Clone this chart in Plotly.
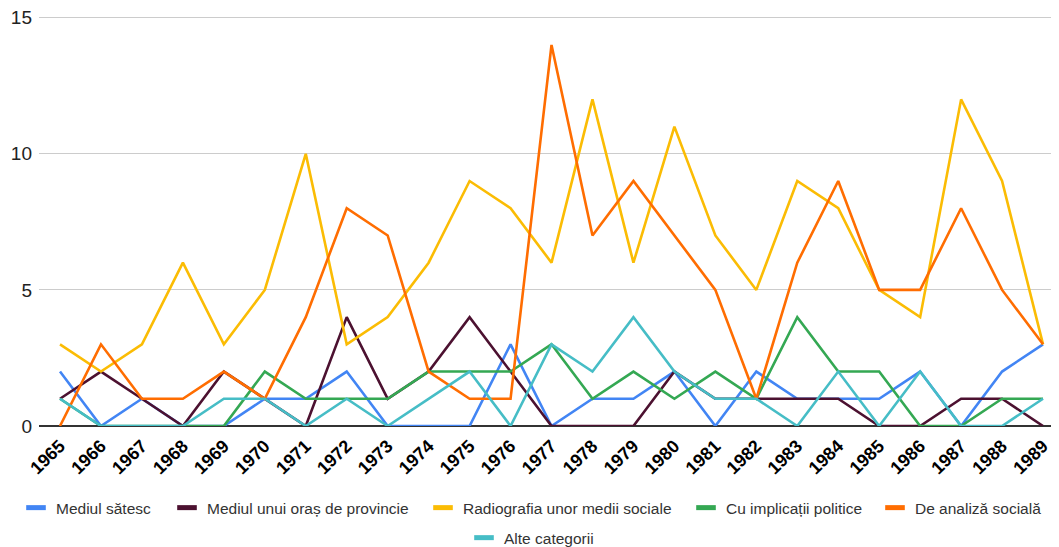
import plotly.graph_objects as go

years = [str(y) for y in range(1965, 1990)]

mediul_satesc = [2, 0, 1, 0, 0, 1, 1, 2, 0, 0, 0, 3, 0, 1, 1, 2, 0, 2, 1, 1, 1, 2, 0, 2, 3]
mediul_oras = [1, 2, 1, 0, 2, 1, 0, 4, 1, 2, 4, 2, 0, 0, 0, 2, 1, 1, 1, 1, 0, 0, 1, 1, 0]
radiografia = [3, 2, 3, 6, 3, 5, 10, 3, 4, 6, 9, 8, 6, 12, 6, 11, 7, 5, 9, 8, 5, 4, 12, 9, 3]
implicatii = [1, 0, 0, 0, 0, 2, 1, 1, 1, 2, 2, 2, 3, 1, 2, 1, 2, 1, 4, 2, 2, 0, 0, 1, 1]
analiza = [0, 3, 1, 1, 2, 1, 4, 8, 7, 2, 1, 1, 14, 7, 9, 7, 5, 1, 6, 9, 5, 5, 8, 5, 3]
alte = [1, 0, 0, 0, 1, 1, 0, 1, 0, 1, 2, 0, 3, 2, 4, 2, 1, 1, 0, 2, 0, 2, 0, 0, 1]

series = [
    ("Mediul sătesc", mediul_satesc, "#4285F4"),
    ("Mediul unui oraș de provincie", mediul_oras, "#4C1130"),
    ("Radiografia unor medii sociale", radiografia, "#FBBC04"),
    ("Cu implicații politice", implicatii, "#34A853"),
    ("De analiză socială", analiza, "#FF6D01"),
    ("Alte categorii", alte, "#46BDC6"),
]

# the page body adds an 8px offset, so the figure is sized to fit the window
W, H = 1051, 539
YMAX = 15.1                      # a little headroom so the 15 gridline is drawn
PX_PER_UNIT = 27.2
BOTTOM = 418
PH = YMAX * PX_PER_UNIT
ML, MR, MB = 31, 0, H - BOTTOM
MT = BOTTOM - PH
PW = W - ML - MR

# legend placement in figure pixels (text start x, row centre y)
legend_pos = [(48, 500), (199, 500), (455, 500), (718, 500), (907, 500), (496, 530)]

idx = list(range(len(years)))
fig = go.Figure()
for name, vals, col in series:
    fig.add_trace(go.Scatter(x=idx, y=vals, mode="lines", name=name,
                             line=dict(color=col, width=2.6), legendgroup=name,
                             showlegend=False))

layout_legends = {}
for i, (name, vals, col) in enumerate(series):
    lname = "legend" if i == 0 else f"legend{i + 1}"
    fig.add_trace(go.Scatter(x=[None], y=[None], mode="markers", name=name,
                             marker=dict(color=col, symbol="line-ew", size=14,
                                         line=dict(color=col, width=6)),
                             legendgroup=name, showlegend=True, legend=lname))
    tx, ty = legend_pos[i]
    layout_legends[lname] = dict(
        x=(tx - 40 - ML) / PW, xanchor="left",
        y=(BOTTOM - ty) / PH, yanchor="middle",
        orientation="h", bgcolor="rgba(0,0,0,0)",
        font=dict(size=15.5, color="#333333",
                  family="Liberation Sans, Arial, sans-serif"),
    )

fig.update_layout(
    width=W, height=H,
    margin=dict(l=ML, r=MR, t=MT, b=MB, autoexpand=False),
    paper_bgcolor="white", plot_bgcolor="white",
    font=dict(family="Liberation Sans, Arial, sans-serif", color="#222222"),
    **layout_legends,
)
fig.update_xaxes(range=[-0.513, 24.39], tickmode="array", tickvals=idx,
                 ticktext=[f"<b>{y}</b>" for y in years],
                 tickangle=-44, tickfont=dict(size=18, color="#000000"),
                 showgrid=False, zeroline=False, showline=False, ticks="",
                 ticklabelstandoff=5,
                 automargin=False, ticklabeloverflow="allow")
fig.update_yaxes(range=[0, YMAX], tickvals=[0, 5, 10, 15],
                 tickfont=dict(size=19, color="#222222"),
                 showgrid=True, gridcolor="#CCCCCC", gridwidth=1.3,
                 zeroline=True, zerolinecolor="#333333", zerolinewidth=1.5, ticks="",
                 ticklabelstandoff=6, automargin=False, ticklabeloverflow="allow")

fig.write_html("out.html")
